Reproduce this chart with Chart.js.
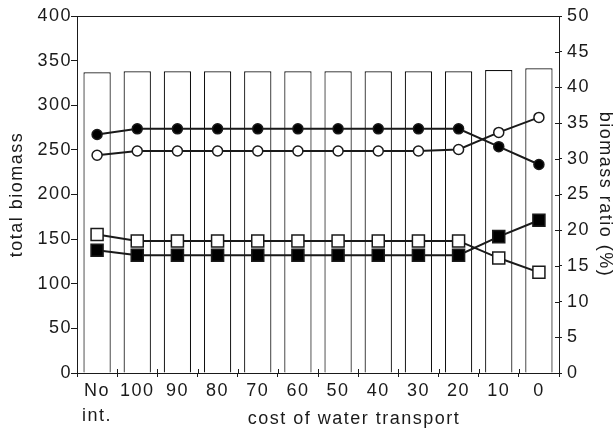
<!DOCTYPE html>
<html>
<head>
<meta charset="utf-8">
<script src="https://cdn.jsdelivr.net/npm/chart.js@4.4.0/dist/chart.umd.min.js"></script>
<style>
  html, body { margin: 0; padding: 0; background: #fff; }
  #wrap { width: 614px; height: 433px; }
</style>
</head>
<body>
<div id="wrap"><canvas id="biomassChart"></canvas></div>
<script>
// categories (cost of water transport)
var costLabels = [['No', 'int.'], '100', '90', '80', '70', '60', '50', '40', '30', '20', '10', '0']

// total biomass (bars, left axis)
var totalBiomass = [337, 338, 338, 338, 338, 338, 338, 338, 338, 338, 339.5, 341.5]

// biomass ratio (%) series (right axis)
var ratioFilledCircle = [33.4, 34.2, 34.2, 34.2, 34.2, 34.2, 34.2, 34.2, 34.2, 34.2, 31.7, 29.2]
var ratioOpenCircle = [30.5, 31.1, 31.1, 31.1, 31.1, 31.1, 31.1, 31.1, 31.1, 31.3, 33.7, 35.8]
var ratioOpenSquare = [19.4, 18.5, 18.5, 18.5, 18.5, 18.5, 18.5, 18.5, 18.5, 18.5, 16.1, 14.1]
var ratioFilledSquare = [17.2, 16.5, 16.5, 16.5, 16.5, 16.5, 16.5, 16.5, 16.5, 16.5, 19.1, 21.4]

var FONT = 'Liberation Sans, Arial, Helvetica, sans-serif'
var INK = '#1a1a1a'
var SPACING = '1.5px'

Chart.defaults.font.family = FONT
Chart.defaults.font.size = 18
Chart.defaults.color = INK

function lineSet(data, style, filled, radius) {
    return {
        type: 'line',
        data: data,
        yAxisID: 'yRatio',
        borderColor: INK,
        borderWidth: 2,
        pointStyle: style,
        pointRadius: radius,
        pointBorderWidth: 1.5,
        pointBorderColor: INK,
        pointBackgroundColor: filled ? '#000' : '#fff',
        tension: 0,
        order: 1
    }
}

// the original lettering is spaced out a bit
var spacingPlugin = {
    id: 'spacing',
    beforeUpdate: function (chart) { chart.ctx.letterSpacing = SPACING },
    beforeLayout: function (chart) { chart.ctx.letterSpacing = SPACING },
    beforeDraw: function (chart) { chart.ctx.letterSpacing = SPACING }
}

// top frame line, inner halves of the crossing ticks, x axis title
var framePlugin = {
    id: 'frame',
    afterDraw: function (chart) {
        var ctx = chart.ctx
        var a = chart.chartArea
        var xs = chart.scales.x
        var yr = chart.scales.yRatio
        ctx.save()
        ctx.strokeStyle = INK
        ctx.lineWidth = 1
        ctx.beginPath()
        ctx.moveTo(a.left, a.top + 0.5)
        ctx.lineTo(a.right, a.top + 0.5)
        // x ticks sit on category boundaries
        for (var i = 1; i < costLabels.length; i++) {
            var bx = Math.round((xs.getPixelForTick(i - 1) + xs.getPixelForTick(i)) / 2) + 0.5
            ctx.moveTo(bx, a.bottom)
            ctx.lineTo(bx, a.bottom - 4)
        }
        yr.ticks.forEach(function (t) {
            var py = Math.round(yr.getPixelForValue(t.value)) + 0.5
            ctx.moveTo(a.right, py)
            ctx.lineTo(a.right - 4, py)
        })
        ctx.stroke()
        ctx.fillStyle = INK
        ctx.font = '18px ' + FONT
        ctx.letterSpacing = SPACING
        ctx.textAlign = 'center'
        ctx.textBaseline = 'alphabetic'
        ctx.fillText('cost of water transport', 354, 424)
        ctx.restore()
    }
}

new Chart(document.getElementById('biomassChart').getContext('2d'), {
    type: 'bar',
    data: {
        labels: costLabels,
        datasets: [
            {
                type: 'bar',
                data: totalBiomass,
                yAxisID: 'yTotal',
                backgroundColor: '#fff',
                borderColor: '#111',
                borderWidth: 1.2,
                barPercentage: 0.68,
                categoryPercentage: 1,
                order: 2
            },
            lineSet(ratioFilledCircle, 'circle', true, 5),
            lineSet(ratioOpenCircle, 'circle', false, 5),
            lineSet(ratioOpenSquare, 'rect', false, 8.5),
            lineSet(ratioFilledSquare, 'rect', true, 8.5)
        ]
    },
    options: {
        responsive: true,
        maintainAspectRatio: false,
        animation: false,
        layout: { padding: { top: 16, right: 0, bottom: 0, left: 0 } },
        plugins: {
            legend: { display: false },
            tooltip: { enabled: false }
        },
        scales: {
            x: {
                offset: true,
                afterFit: function (s) { s.height = 60 },
                grid: { display: true, offset: true, drawOnChartArea: false, tickLength: 4, color: INK },
                border: { color: INK },
                ticks: { padding: 2, font: { lineHeight: 1.39 }, maxRotation: 0 }
            },
            yTotal: {
                position: 'left',
                min: 0,
                max: 400,
                afterFit: function (s) { s.width = 77 },
                ticks: { stepSize: 50, padding: -1 },
                grid: { drawOnChartArea: false, tickLength: 6, color: INK },
                border: { color: INK },
                title: { display: true, text: 'total biomass', font: { lineHeight: 1 }, padding: { top: 8, bottom: 0 } }
            },
            yRatio: {
                position: 'right',
                min: 0,
                max: 50,
                afterFit: function (s) { s.width = 55 },
                ticks: { stepSize: 5, padding: 5 },
                grid: { drawOnChartArea: false, tickLength: 3, color: INK },
                border: { color: INK },
                title: { display: true, text: 'biomass ratio (%)', font: { lineHeight: 1 }, padding: { top: 0, bottom: 0 } }
            }
        }
    },
    plugins: [spacingPlugin, framePlugin]
})
</script>
</body>
</html>
